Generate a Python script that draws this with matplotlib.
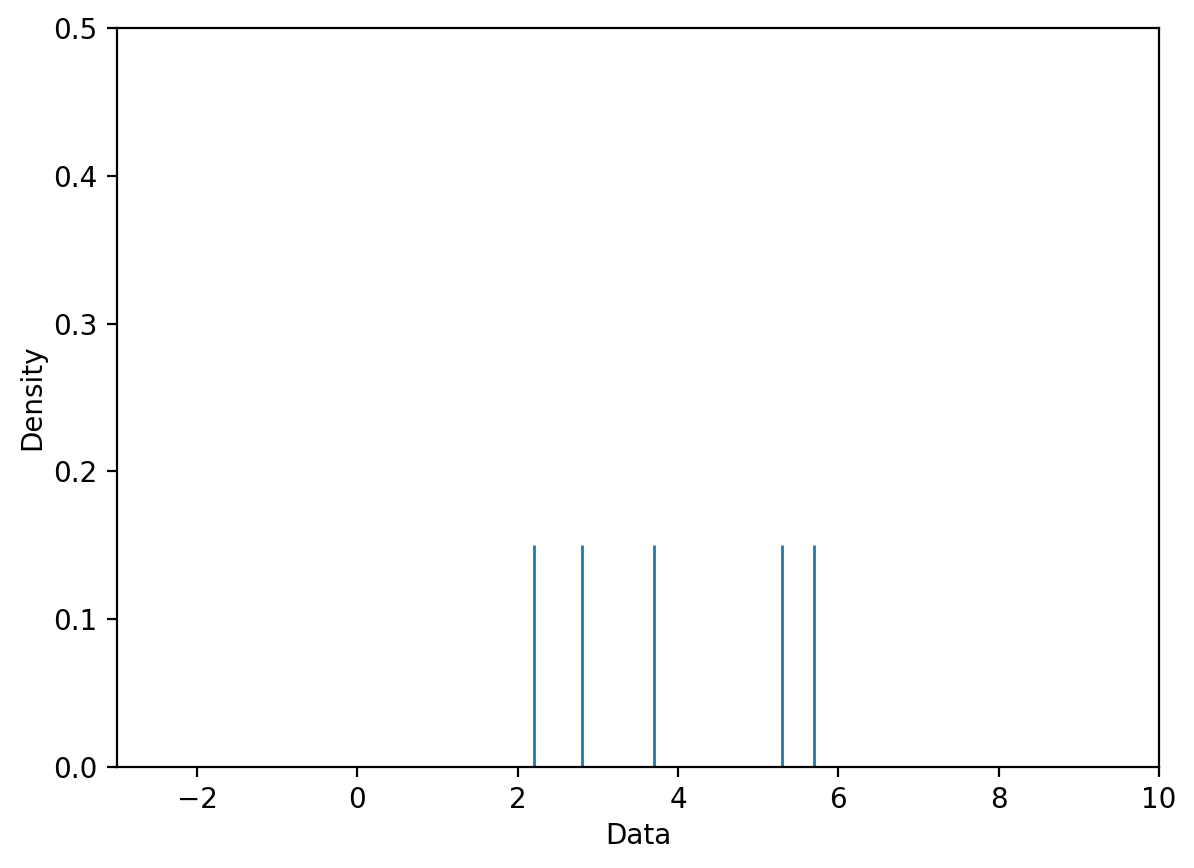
import numpy as np
import matplotlib
matplotlib.use('Agg')
import matplotlib.pyplot as plt

# data points shown as rug-style lines
data = [2.2, 2.8, 3.7, 5.3, 5.7]
line_height = 0.15

fig = plt.figure(figsize=(5.97, 4.34), dpi=200)
ax = fig.add_axes([0.098, 0.1164, 0.8727, 0.8513])

ax.vlines(data, 0, line_height, color='tab:blue', linewidth=1)

ax.set_xlim(-3, 10)
ax.set_ylim(0, 0.5)
ax.set_xlabel('Data', labelpad=2.6)
ax.set_ylabel('Density', labelpad=2.4)

fig.savefig('out.png', dpi=200)
